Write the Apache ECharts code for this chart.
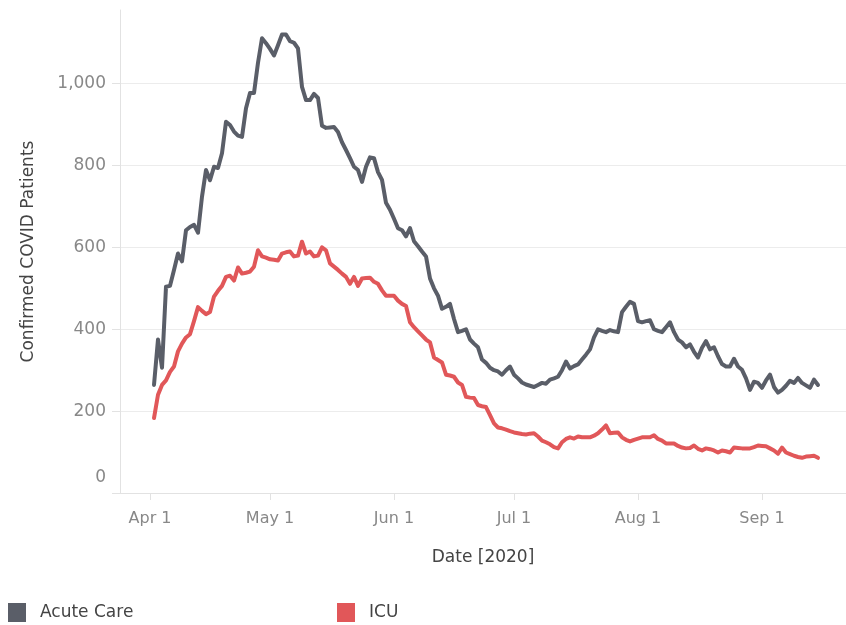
<!DOCTYPE html>
<html>
<head>
<meta charset="utf-8">
<title>Confirmed COVID Patients</title>
<script src="https://cdn.jsdelivr.net/npm/echarts@6/dist/echarts.min.js"></script>
<style>
  html, body { margin: 0; padding: 0; background: #fff; }
  #chart { width: 846px; height: 625px; }
</style>
</head>
<body>
<div id="chart"></div>
<script>
// one value per day, starting on Apr 2 2020
const firstDay = '2020-04-02';
const acuteCare = [
  264, 375, 306, 504, 506, 545, 585, 566, 642, 650,
  655, 636, 724, 789, 764, 797, 794, 830, 907, 899,
  883, 873, 870, 940, 977, 977, 1051, 1111, 1099, 1085,
  1069, 1094, 1120, 1120, 1104, 1100, 1086, 992, 960, 960,
  975, 965, 897, 892, 893, 894, 882, 857, 838, 818,
  797, 789, 760, 797, 820, 818, 784, 765, 709, 692,
  670, 647, 642, 627, 647, 615, 603, 590, 578, 524,
  500, 482, 450, 455, 462, 425, 393, 396, 400, 375,
  365, 356, 326, 318, 306, 300, 297, 289, 300, 309,
  289, 280, 270, 265, 262, 259, 264, 269, 267, 277,
  280, 284, 300, 321, 304, 310, 314, 326, 338, 351,
  380, 400, 396, 393, 398, 395, 393, 442, 455, 467,
  462, 420, 417, 420, 422, 400, 396, 393, 405, 417,
  393, 375, 368, 356, 363, 345, 331, 355, 371, 351,
  356, 334, 315, 309, 309, 328, 309, 301, 280, 252,
  272, 269, 257, 275, 289, 259, 245, 252, 262, 274,
  269, 281, 269, 263, 257, 277, 264
];
const icu = [
  183, 240, 264, 275, 296, 309, 346, 365, 380, 388,
  420, 454, 445, 437, 442, 480, 494, 506, 528, 531,
  519, 551, 536, 538, 541, 553, 593, 578, 575, 571,
  570, 568, 585, 588, 590, 578, 580, 614, 585, 590,
  578, 580, 600, 593, 561, 553, 545, 536, 528, 511,
  528, 506, 524, 525, 526, 516, 511, 495, 482, 482,
  482, 470, 462, 457, 417, 405, 395, 385, 375, 368,
  331, 325, 319, 289, 287, 284, 270, 264, 235, 233,
  232, 215, 212, 210, 190, 170, 160, 158, 155, 151,
  148, 146, 144, 143, 145, 146, 138, 128, 124, 119,
  112, 109, 124, 132, 136, 133, 138, 136, 136, 136,
  140, 146, 155, 165, 146, 147, 148, 136, 130, 126,
  130, 133, 136, 136, 136, 141, 132, 128, 121, 121,
  121, 115, 111, 109, 110, 116, 108, 104, 109, 107,
  104, 99, 104, 102, 99, 111, 110, 109, 109, 109,
  112, 116, 115, 114, 109, 104, 96, 111, 99, 95,
  91, 88, 86, 89, 90, 91, 86
];
const yTicks = [0, 200, 400, 600, 800, 1000];
const monthTicks = ['2020-04-01', '2020-05-01', '2020-06-01', '2020-07-01', '2020-08-01', '2020-09-01'];
const monthNames = ['Jan', 'Feb', 'Mar', 'Apr', 'May', 'Jun', 'Jul', 'Aug', 'Sep', 'Oct', 'Nov', 'Dec'];

function toTime (s) {
  let p = s.split('-');
  return new Date(+p[0], +p[1] - 1, +p[2]).getTime();
}

// date (as ms) for every point
let start = new Date(toTime(firstDay));
let days = acuteCare.map((v, i) => new Date(start.getFullYear(), start.getMonth(), start.getDate() + i).getTime());

const font = 'DejaVu Sans';
const gray = '#5a5e68';
const red = '#e15759';

let chart = echarts.init(document.getElementById('chart'));
let option = {
  animation: false,
  textStyle: { fontFamily: font },
  grid: {
    left: 120,
    right: 0,
    top: 10,
    bottom: 132
  },
  legend: [{
    data: ['Acute Care'],
    left: 8,
    top: 603,
    padding: 0,
    icon: 'rect',
    itemWidth: 18,
    itemHeight: 19,
    textStyle: { fontFamily: font, fontSize: 17, color: '#444', padding: [2, 0, 0, 9] }
  }, {
    data: ['ICU'],
    left: 337,
    top: 603,
    padding: 0,
    icon: 'rect',
    itemWidth: 18,
    itemHeight: 19,
    textStyle: { fontFamily: font, fontSize: 17, color: '#444', padding: [2, 0, 0, 9] }
  }],
  // x is a value axis holding timestamps, so the month ticks can be placed exactly
  xAxis: {
    type: 'value',
    min: new Date(2020, 2, 24, 12).getTime(),
    max: new Date(2020, 8, 22).getTime(),
    name: 'Date [2020]',
    nameLocation: 'middle',
    nameGap: 56,
    nameTextStyle: { fontFamily: font, fontSize: 17, color: '#444' },
    axisLine: { show: true, lineStyle: { color: '#e2e2e2', width: 1 } },
    axisTick: {
      show: true,
      length: 7,
      customValues: monthTicks.map(toTime),
      lineStyle: { color: '#e2e2e2' }
    },
    axisLabel: {
      customValues: monthTicks.map(toTime),
      margin: 18,
      fontFamily: font,
      fontSize: 16,
      color: '#888',
      formatter: function (value) {
        let d = new Date(value);
        return monthNames[d.getMonth()] + ' ' + d.getDate();
      }
    },
    splitLine: { show: false }
  },
  yAxis: {
    type: 'value',
    min: 0,
    max: 1180,
    name: 'Confirmed COVID Patients',
    nameLocation: 'middle',
    nameGap: 83,
    nameTextStyle: { fontFamily: font, fontSize: 17, color: '#444' },
    axisLine: { show: true, lineStyle: { color: '#e2e2e2', width: 1 } },
    axisTick: {
      show: true,
      length: 8,
      customValues: yTicks,
      lineStyle: { color: '#e2e2e2' }
    },
    axisLabel: {
      customValues: yTicks,
      margin: 14,
      fontFamily: font,
      fontSize: 17,
      color: '#888',
      formatter: function (value) {
        // tableau pushes the bottom label up inside the pane
        if (value === 0) return '{zero|0}';
        return value.toLocaleString('en-US');
      },
      rich: {
        zero: { fontFamily: font, fontSize: 17, color: '#888', padding: [0, 0, 30, 0] }
      }
    },
    splitLine: { show: true, lineStyle: { color: '#ececec', width: 1 } }
  },
  series: [{
    name: 'Acute Care',
    type: 'line',
    data: days.map((d, i) => [d, acuteCare[i]]),
    showSymbol: false,
    color: gray,
    lineStyle: { width: 4, color: gray, join: 'round', cap: 'round' }
  }, {
    name: 'ICU',
    type: 'line',
    data: days.map((d, i) => [d, icu[i]]),
    showSymbol: false,
    color: red,
    lineStyle: { width: 4, color: red, join: 'round', cap: 'round' }
  }]
};
chart.setOption(option);
</script>
</body>
</html>
